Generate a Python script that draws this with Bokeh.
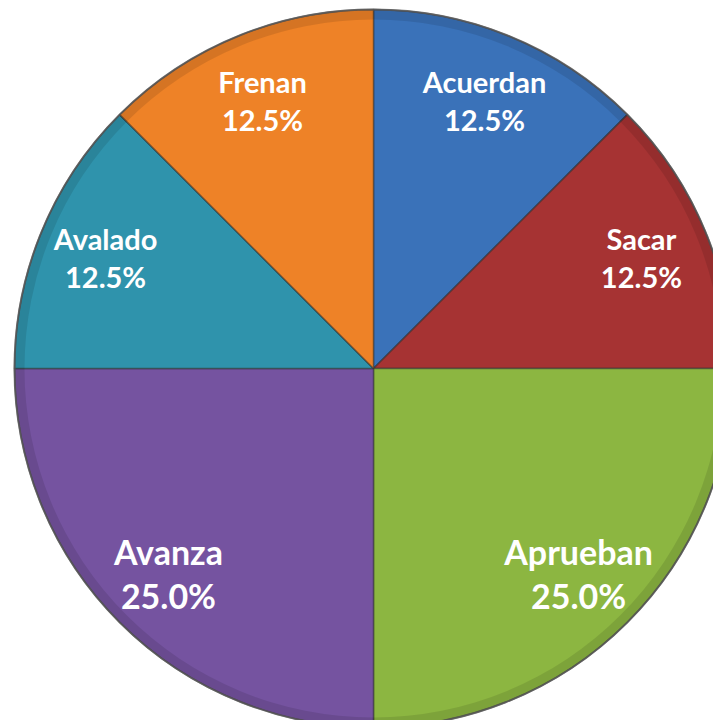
import math
from bokeh.plotting import figure
from bokeh.models import Range1d, ColumnDataSource
from bokeh.core.properties import value
from bokeh.embed import file_html
from bokeh.resources import INLINE

categories = ["Acuerdan", "Sacar", "Aprueban", "Avanza", "Avalado", "Frenan"]
percents = [12.5, 12.5, 25.0, 25.0, 12.5, 12.5]
colors = ["#3A72B9", "#A63333", "#8CB641", "#7553A0", "#2F93AC", "#EE8227"]

W, H = 713, 720
cx, cy, R = 373, -368, 359
label_r = 290

total = sum(percents)
starts, ends, nx, ny, py_, names, pcts, sizes = [], [], [], [], [], [], [], []
cum = 0.0
for c, v in zip(categories, percents):
    a0 = 90 - cum / total * 360
    cum += v
    a1 = 90 - cum / total * 360
    starts.append(math.radians(a1))
    ends.append(math.radians(a0))
    mid = math.radians((a0 + a1) / 2)
    big = v / total >= 0.2
    half = 22 if big else 19
    x = cx + label_r * math.cos(mid)
    y = cy + label_r * math.sin(mid)
    nx.append(x)
    ny.append(y + half)
    py_.append(y - half)
    names.append(c)
    pcts.append(f"{v:.1f}%")
    sizes.append("34px" if big else "29px")

src = ColumnDataSource(dict(start=starts, end=ends, color=colors,
                            x=nx, ny=ny, py=py_, name=names, pct=pcts,
                            size=sizes))

p = figure(width=W, height=H, output_backend="svg", toolbar_location=None,
           x_range=Range1d(0, W), y_range=Range1d(-H, 0),
           min_border=0)
p.axis.visible = False
p.grid.visible = False
p.outline_line_color = None
p.background_fill_color = "white"

p.wedge(x=cx, y=cy, radius=R, start_angle="start", end_angle="end",
        fill_color="color", line_color="#2b2b2b", line_alpha=0.55,
        line_width=1.5, source=src)
# soft bevel near the rim
p.annular_wedge(x=cx, y=cy, inner_radius=R - 10, outer_radius=R,
                start_angle="start", end_angle="end", fill_color="black",
                fill_alpha=0.10, line_color=None, source=src)
p.circle(x=[cx], y=[cy], radius=R, fill_color=None, line_color="#555555",
         line_width=2, line_alpha=0.8)

for col in ("name", "pct"):
    p.text(x="x", y="ny" if col == "name" else "py", text=col, source=src,
           text_color="white", text_font=value("Lato"),
           text_font_style="bold", text_font_size="size",
           text_align="center", text_baseline="middle")

open("out.html", "w").write(file_html(p, INLINE))
